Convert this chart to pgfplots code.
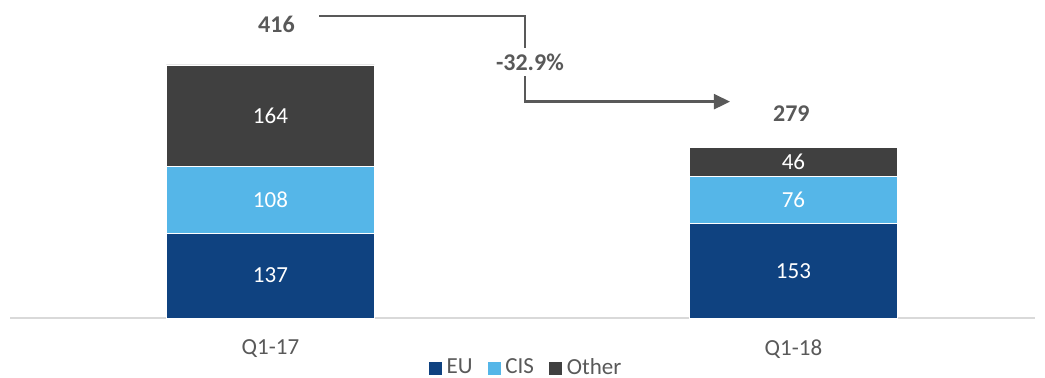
\documentclass[border=0pt]{standalone}
\usepackage{fontspec}
\setmainfont{Carlito}
\usepackage{pgfplots}
\pgfplotsset{compat=1.18}
\usetikzlibrary{arrows.meta}
\definecolor{eu}{HTML}{0F4280}
\definecolor{cis}{HTML}{55B6E8}
\definecolor{oth}{HTML}{404040}
\definecolor{txt}{HTML}{595959}
\definecolor{axl}{HTML}{D9D9D9}
\tikzset{
  lab/.style={white, font=\fontsize{11.5pt}{13pt}\selectfont},
  tot/.style={text=txt, font=\fontsize{12pt}{14pt}\selectfont\bfseries},
}
\pgfplotsset{
  sqlegend/.style={legend image code/.code={\fill[##1] (0pt,-3.5pt) rectangle (7pt,3.5pt);}},
  frame/.style={at={(5pt,30pt)}, anchor=south west,
    scale only axis, width=512.5pt, height=159pt,
    xmin=-0.498, xmax=1.4618, ymin=0, ymax=514, clip=false},
}
\begin{document}
\begin{tikzpicture}
\begin{axis}[
  frame,
  ybar stacked, bar width=104pt,
  axis y line=none, axis x line*=bottom,
  x axis line style={draw=axl, line width=0.6pt, -},
  xtick={0,1}, xticklabels={Q1-17,Q1-18},
  major tick length=0pt,
  xticklabel style={anchor=center, yshift=-15.5pt, text=txt, font=\fontsize{11.5pt}{13pt}\selectfont},
  legend style={at={(0.504,-0.157)}, anchor=center, draw=none, fill=none,
    legend columns=-1, font=\fontsize{11.5pt}{13pt}\selectfont, text=txt,
    /tikz/every even column/.append style={column sep=5pt}},
  sqlegend,
]
\addplot[fill=eu, draw=white, line width=0.4pt] coordinates {(0,137) (1,153)};
\addplot[fill=cis, draw=white, line width=0.4pt] coordinates {(0,108) (1,76)};
\addplot[fill=oth, draw=white, line width=0.4pt] coordinates {(0,164) (1,46)};
\legend{EU,CIS,Other}
\end{axis}
\begin{axis}[frame, hide axis]
\node[lab] at (axis cs:0,68.5) {137};
\node[lab] at (axis cs:0,191) {108};
\node[lab] at (axis cs:0,327) {164};
\node[lab] at (axis cs:1,76.5) {153};
\node[lab] at (axis cs:1,191) {76};
\node[lab] at (axis cs:1,252) {46};
\node[tot] at (axis cs:0.0115,475) {416};
\node[tot] at (axis cs:0.996,330.6) {279};
\draw[txt, line width=1.2pt, -{Triangle[length=8pt,width=7.5pt]}]
  (axis cs:0.0933,488.2) -- (axis cs:0.4862,488.2) -- (axis cs:0.4862,349.7) -- (axis cs:0.8786,349.7);
\node[tot, fill=white, inner xsep=1pt, inner ysep=2.8pt] at (axis cs:0.496,413.8) {-32.9\%};
\end{axis}
\pgfresetboundingbox
\path[use as bounding box] (0,0) rectangle (522.5pt,189pt);
\end{tikzpicture}
\end{document}
